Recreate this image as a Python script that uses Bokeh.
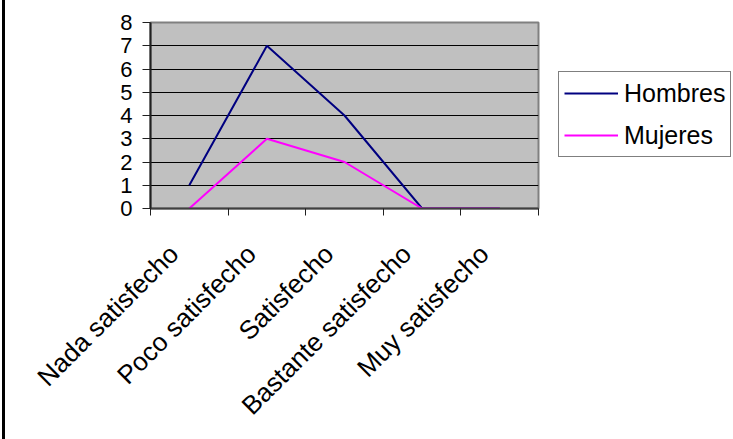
import math
from bokeh.plotting import figure
from bokeh.models import Range1d, FixedTicker, Legend, LegendItem
from bokeh.embed import file_html
from bokeh.resources import INLINE

categories = ["Nada satisfecho", "Poco satisfecho", "Satisfecho",
              "Bastante satisfecho", "Muy satisfecho"]
hombres = [1, 7, 4, 0, 0]
mujeres = [0, 3, 2, 0, 0]
y_ticks = [0, 1, 2, 3, 4, 5, 6, 7, 8]

n = len(categories)
xs = [i + 0.5 for i in range(n)]
boundaries = list(range(n + 1))
LABEL_SHIFT = 0.2  # Excel draws the rotated labels slightly left of the centres
label_pos = [x - LABEL_SHIFT for x in xs]
FONT = "Liberation Sans"

p = figure(frame_width=388, frame_height=186, x_range=Range1d(0, n), y_range=Range1d(0, 8),
           output_backend="svg", toolbar_location=None,
           min_border_left=150, min_border_right=0,
           min_border_top=22, min_border_bottom=231)
p.styles = {"background": "linear-gradient(to right, white 2px, black 2px, black 5px, white 5px)"}

p.background_fill_color = "#C0C0C0"
p.border_fill_alpha = 0
p.outline_line_color = "#808080"
p.outline_line_width = 2

p.xgrid.visible = False
p.ygrid.ticker = FixedTicker(ticks=y_ticks)
p.ygrid.grid_line_color = "black"
p.ygrid.grid_line_width = 1

# y axis
ya = p.yaxis[0]
ya.ticker = FixedTicker(ticks=y_ticks)
ya.axis_line_color = "#202020"
ya.axis_line_width = 2
ya.major_tick_out = 8
ya.major_tick_in = 0
ya.major_tick_line_color = "#202020"
ya.minor_tick_line_color = None
ya.major_label_text_font = FONT
ya.major_label_text_font_size = "22px"
ya.major_label_text_color = "black"
ya.major_label_standoff = 10

# x axis: rotated category labels, tick marks at category boundaries
xa = p.xaxis[0]
xa.ticker = FixedTicker(ticks=label_pos, minor_ticks=boundaries)
xa.major_label_overrides = {x: c for x, c in zip(label_pos, categories)}
xa.axis_line_color = "#404040"
xa.axis_line_width = 2
xa.major_tick_out = 0
xa.major_tick_in = 0
xa.major_tick_line_color = None
xa.minor_tick_out = 7
xa.minor_tick_in = 0
xa.minor_tick_line_color = "#202020"
xa.minor_tick_line_width = 1
xa.major_label_orientation = math.pi / 4
xa.major_label_text_font = FONT
xa.major_label_text_font_size = "26px"
xa.major_label_text_color = "black"
xa.major_label_standoff = 34

r1 = p.line(xs, hombres, line_color="#000080", line_width=2)
r2 = p.line(xs, mujeres, line_color="#FF00FF", line_width=2)

legend = Legend(items=[LegendItem(label="Hombres", renderers=[r1]),
                       LegendItem(label="Mujeres", renderers=[r2])],
                location=(20, 51))
legend.border_line_color = "black"
legend.border_line_width = 1
legend.background_fill_color = "white"
legend.background_fill_alpha = 1
legend.label_text_font = FONT
legend.label_text_font_size = "25px"
legend.label_text_color = "black"
legend.padding = 5
legend.spacing = 10
legend.margin = 0
legend.glyph_width = 54
legend.glyph_height = 32
legend.label_height = 32
legend.label_standoff = 6
p.add_layout(legend, "right")

open("out.html", "w").write(file_html(p, INLINE))
